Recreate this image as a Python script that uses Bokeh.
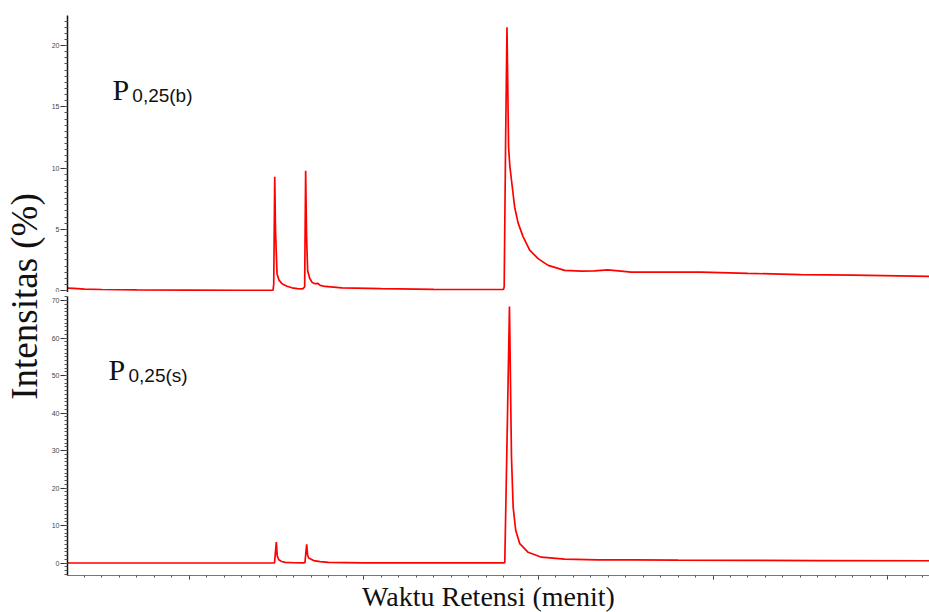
import math
from bokeh.plotting import figure
from bokeh.models import Range1d, Label, FixedTicker, CustomJSTickFormatter
from bokeh.layouts import row, column
from bokeh.embed import file_html
from bokeh.resources import INLINE

# ---- data (retention time in minutes, intensity in %) ----
# upper chromatogram P0,25(b)
time_b = [1.51, 1.7, 2.0, 2.5, 3.5, 5.0, 6.5,
          7.40, 7.42, 7.449, 7.47, 7.514, 7.57, 7.657, 7.8, 7.943,
          8.1, 8.25, 8.306, 8.334, 8.36, 8.391, 8.45, 8.514, 8.6, 8.686, 8.75, 8.894, 9.371,
          10.5, 12.0, 13.5, 14.0, 14.02, 14.06, 14.10, 14.146, 14.18, 14.229, 14.32, 14.42, 14.56,
          14.75, 14.99, 15.28, 15.75, 16.23, 16.6, 16.99, 17.66, 18.5, 19.66, 21.0, 22.51, 24.0, 26.2]
int_b = [0.20, 0.18, 0.12, 0.08, 0.05, 0.03, 0.02,
         0.02, 0.5, 9.29, 5.0, 1.37, 0.85, 0.55, 0.35, 0.22,
         0.16, 0.14, 0.3, 9.78, 4.5, 1.64, 1.0, 0.68, 0.55, 0.58, 0.42, 0.33, 0.22,
         0.15, 0.1, 0.08, 0.08, 0.3, 12.0, 21.5, 11.7, 10.2, 9.0, 6.8, 5.5, 4.4,
         3.3, 2.6, 2.05, 1.64, 1.58, 1.6, 1.68, 1.5, 1.5, 1.5, 1.4, 1.3, 1.25, 1.15]

# lower chromatogram P0,25(s)
time_s = [1.51, 3.0, 5.0, 7.0, 7.40,
          7.443, 7.494, 7.52, 7.563, 7.65, 7.751, 8.0,
          8.27, 8.314, 8.363, 8.39, 8.42, 8.563, 8.75, 8.991,
          10.0, 12.0, 13.5, 14.0, 14.037, 14.10, 14.171,
          14.191, 14.209, 14.229, 14.277, 14.351, 14.466, 14.706, 15.086, 15.751, 16.706,
          17.657, 19.0, 21.0, 23.0, 26.2]
int_s = [0.05, 0.05, 0.05, 0.05, 0.05,
         0.1, 5.6, 2.0, 0.9, 0.45, 0.2, 0.12,
         0.1, 0.15, 5.0, 2.2, 1.4, 0.7, 0.4, 0.2,
         0.1, 0.1, 0.1, 0.1, 0.15, 32.0, 68.4,
         54.9, 41.6, 28.2, 14.9, 8.7, 5.2, 2.9, 1.6, 1.07, 0.9,
         0.9, 0.8, 0.75, 0.7, 0.65]

ticks_top = [0, 5, 10, 15, 20]
ticks_bottom = [0, 10, 20, 30, 40, 50, 60, 70]
ticks_x = [5, 10, 15, 20, 25]

SERIF = "Liberation Serif"
SANS = "Liberation Sans"
RED = "#ff0000"
INK = "#111111"

x_range = Range1d(1.514, 26.2)


def clean(p):
    p.grid.grid_line_color = None
    p.outline_line_color = None
    p.background_fill_color = "white"
    p.border_fill_color = "white"


def style_yaxis(ax, ticks, minor):
    ax.ticker = FixedTicker(ticks=ticks, minor_ticks=minor)
    ax.axis_line_color = INK
    ax.axis_line_width = 1.5
    ax.major_tick_line_color = "#333333"
    ax.minor_tick_line_color = "#555555"
    ax.major_tick_out = 7
    ax.major_tick_in = 0
    ax.minor_tick_out = 3
    ax.minor_tick_in = 0
    ax.major_label_text_font = SANS
    ax.major_label_text_font_size = "7px"
    ax.major_label_text_color = "#444444"
    ax.major_label_standoff = 1


# ---- top panel ----
top = figure(width=881, height=292, x_range=x_range, y_range=Range1d(-0.163, 22.45),
             output_backend="svg", toolbar_location=None, x_axis_location=None,
             min_border_left=17, min_border_right=0, min_border_top=15, min_border_bottom=0)
clean(top)
style_yaxis(top.yaxis[0], ticks_top, [0.5 * i for i in range(45)])
top.line(time_b, int_b, color=RED, line_width=1.7)
top.add_layout(Label(x=2.8, y=16.4, text="P", text_font=SERIF, text_font_size="30px",
                     text_color=INK, text_baseline="alphabetic"))
top.add_layout(Label(x=3.37, y=15.9, text="0,25(b)", text_font=SANS, text_font_size="19px",
                     text_color=INK, text_baseline="alphabetic"))

# ---- bottom panel ----
bottom = figure(width=881, height=288, x_range=x_range, y_range=Range1d(-3.28, 71.07),
                output_backend="svg", toolbar_location=None,
                min_border_left=17, min_border_right=0, min_border_top=4, min_border_bottom=5)
clean(bottom)
style_yaxis(bottom.yaxis[0], ticks_bottom, list(range(-3, 72)))
xa = bottom.xaxis[0]
xa.ticker = FixedTicker(ticks=ticks_x, minor_ticks=[1.5 + 0.5 * i for i in range(50)])
xa.formatter = CustomJSTickFormatter(code="return ''")
xa.axis_line_color = "#777777"
xa.axis_line_width = 1.2
xa.major_tick_line_color = "#333333"
xa.minor_tick_line_color = "#555555"
xa.major_tick_out = 4
xa.major_tick_in = 0
xa.minor_tick_out = 2
xa.minor_tick_in = 0
xa.major_label_text_font_size = "1px"
xa.major_label_standoff = 0
bottom.line(time_s, int_s, color=RED, line_width=1.7)
bottom.add_layout(Label(x=2.69, y=51.6, text="P", text_font=SERIF, text_font_size="30px",
                        text_color=INK, text_baseline="alphabetic"))
bottom.add_layout(Label(x=3.26, y=50.0, text="0,25(s)", text_font=SANS, text_font_size="19px",
                        text_color=INK, text_baseline="alphabetic"))

# ---- y label strip ----
ylab = figure(width=48, height=580, x_range=Range1d(0, 48), y_range=Range1d(0, 580),
              output_backend="svg", toolbar_location=None,
              x_axis_location=None, y_axis_location=None, min_border=0)
clean(ylab)
ylab.add_layout(Label(x=24, y=284, text="Intensitas (%)", text_font=SERIF,
                      text_font_size="37px", text_color=INK, angle=math.pi / 2,
                      text_align="center", text_baseline="middle"))

# ---- x label strip ----
xlab = figure(width=929, height=32, x_range=Range1d(0, 929), y_range=Range1d(0, 32),
              output_backend="svg", toolbar_location=None,
              x_axis_location=None, y_axis_location=None, min_border=0)
clean(xlab)
xlab.add_layout(Label(x=488, y=16, text="Waktu Retensi (menit)", text_font=SERIF,
                      text_font_size="28px", text_color=INK,
                      text_align="center", text_baseline="middle"))

layout = column(row(ylab, column(top, bottom)), xlab)

open("out.html", "w").write(file_html(layout, INLINE))
